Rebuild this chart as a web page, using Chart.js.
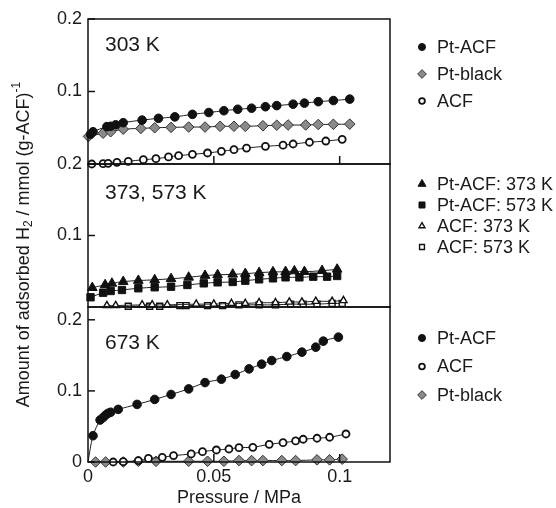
<!DOCTYPE html>
<html>
<head>
<meta charset="utf-8">
<script src="https://cdn.jsdelivr.net/npm/chart.js@4/dist/chart.umd.min.js"></script>
<style>
  html, body { margin: 0; padding: 0; background: #fff; }
  #wrap { width: 556px; height: 508px; }
</style>
</head>
<body>
<div id="wrap"><canvas id="chart" width="556" height="508"></canvas></div>
<script>
// tick labels
const xTicks = [0, 0.05, 0.1];
const yTicksUpper = [0.1, 0.2];
const yTicksLower = [0, 0.1, 0.2];

// 303 K panel
const ptAcf303X = [0.001, 0.002, 0.0075, 0.009, 0.011, 0.014, 0.0215, 0.028, 0.0345, 0.0415, 0.048, 0.054, 0.0595, 0.065, 0.0705, 0.075, 0.0815, 0.086, 0.0915, 0.0975, 0.104];
const ptAcf303Y = [0.041, 0.0445, 0.0515, 0.052, 0.054, 0.057, 0.0605, 0.063, 0.065, 0.0685, 0.071, 0.0735, 0.0755, 0.077, 0.079, 0.0805, 0.0825, 0.084, 0.086, 0.0875, 0.0895];
const ptBlack303X = [0.0002, 0.006, 0.009, 0.014, 0.021, 0.0265, 0.033, 0.040, 0.0465, 0.0525, 0.058, 0.0625, 0.0695, 0.075, 0.0795, 0.0865, 0.0915, 0.0975, 0.104];
const ptBlack303Y = [0.038, 0.0425, 0.0445, 0.048, 0.049, 0.050, 0.0505, 0.051, 0.051, 0.052, 0.052, 0.052, 0.0528, 0.0535, 0.0538, 0.0538, 0.0545, 0.0547, 0.055];
const acf303X = [0.0015, 0.006, 0.008, 0.0115, 0.016, 0.022, 0.027, 0.032, 0.036, 0.0415, 0.0475, 0.053, 0.058, 0.063, 0.0705, 0.0775, 0.0815, 0.088, 0.0945, 0.101];
const acf303Y = [0.0, 0.0005, 0.001, 0.0023, 0.0037, 0.006, 0.0073, 0.0097, 0.0115, 0.0133, 0.0152, 0.0175, 0.0197, 0.022, 0.0244, 0.026, 0.0276, 0.030, 0.0317, 0.034];

// 373 / 573 K panel
const ptAcf373X = [0.0017, 0.0068, 0.0095, 0.014, 0.020, 0.0265, 0.033, 0.040, 0.0465, 0.0515, 0.0575, 0.0625, 0.068, 0.0735, 0.0785, 0.082, 0.086, 0.093, 0.099];
const ptAcf373Y = [0.027, 0.031, 0.033, 0.0355, 0.037, 0.038, 0.0395, 0.0415, 0.044, 0.045, 0.0457, 0.0466, 0.048, 0.049, 0.0494, 0.0503, 0.0494, 0.0508, 0.0527];
const ptAcf573X = [0.001, 0.006, 0.009, 0.0135, 0.020, 0.0265, 0.033, 0.0395, 0.046, 0.0515, 0.0575, 0.0625, 0.068, 0.0735, 0.0785, 0.084, 0.0895, 0.095, 0.099];
const ptAcf573Y = [0.0136, 0.020, 0.0224, 0.0238, 0.0262, 0.0276, 0.0284, 0.0308, 0.0331, 0.0345, 0.035, 0.0368, 0.0387, 0.0401, 0.0415, 0.0415, 0.0424, 0.0424, 0.0434];
const acf373X = [0.0075, 0.011, 0.0215, 0.0255, 0.0315, 0.043, 0.050, 0.057, 0.0625, 0.068, 0.0745, 0.080, 0.085, 0.0905, 0.097, 0.1015];
const acf373Y = [0.002, 0.002, 0.003, 0.003, 0.003, 0.004, 0.004, 0.005, 0.005, 0.006, 0.006, 0.007, 0.007, 0.008, 0.008, 0.009];
const acf573X = [0.016, 0.0245, 0.0285, 0.0365, 0.039, 0.0475, 0.0535, 0.060, 0.068, 0.0745, 0.0805, 0.0855, 0.091, 0.097, 0.101];
const acf573Y = [0.001, 0.001, 0.001, 0.002, 0.002, 0.002, 0.002, 0.003, 0.003, 0.003, 0.004, 0.004, 0.004, 0.005, 0.005];

// 673 K panel (first Pt-ACF point is the curve origin, no marker)
const ptAcf673X = [0, 0.002, 0.0048, 0.006, 0.007, 0.008, 0.009, 0.012, 0.0195, 0.0265, 0.033, 0.040, 0.0465, 0.053, 0.0585, 0.064, 0.069, 0.073, 0.079, 0.085, 0.0905, 0.0935, 0.0995];
const ptAcf673Y = [0, 0.037, 0.059, 0.0625, 0.066, 0.0685, 0.070, 0.074, 0.081, 0.088, 0.095, 0.1028, 0.1117, 0.1165, 0.123, 0.131, 0.1376, 0.1427, 0.1483, 0.1545, 0.1615, 0.170, 0.1756];
const acf673X = [0.010, 0.014, 0.020, 0.024, 0.0295, 0.034, 0.041, 0.0455, 0.051, 0.056, 0.060, 0.0655, 0.072, 0.0775, 0.0825, 0.0855, 0.091, 0.096, 0.1025];
const acf673Y = [0, 0.0005, 0.002, 0.005, 0.0066, 0.009, 0.0113, 0.0145, 0.0169, 0.0183, 0.0202, 0.0207, 0.0249, 0.0272, 0.0296, 0.032, 0.0334, 0.0348, 0.0394];
const ptBlack673X = [0.003, 0.007, 0.014, 0.020, 0.027, 0.040, 0.0475, 0.054, 0.060, 0.065, 0.0695, 0.077, 0.0825, 0.091, 0.096, 0.101];
const ptBlack673Y = [0, 0, 0, 0.001, 0.001, 0.001, 0.001, 0.001, 0.002, 0.002, 0.002, 0.002, 0.002, 0.003, 0.003, 0.004];

const FONT = 'Liberation Sans, Arial, Helvetica, sans-serif';
const INK = '#1a1a1a';

// marker looks
const markers = {
  dot:      { pointStyle: 'circle',   pointRadius: 4.3, pointBackgroundColor: '#111', pointBorderColor: '#111', pointBorderWidth: 1 },
  ring:     { pointStyle: 'circle',   pointRadius: 3.5, pointBackgroundColor: '#fff', pointBorderColor: '#111', pointBorderWidth: 1.8 },
  diamond:  { pointStyle: 'rectRot',  pointRadius: 5.3, pointBackgroundColor: '#8a8a8a', pointBorderColor: '#333', pointBorderWidth: 1 },
  tri:      { pointStyle: 'triangle', pointRadius: 5.6, pointBackgroundColor: '#111', pointBorderColor: '#111', pointBorderWidth: 1 },
  square:   { pointStyle: 'rect',     pointRadius: 5.2, pointBackgroundColor: '#111', pointBorderColor: '#111', pointBorderWidth: 1 },
  triOpen:  { pointStyle: 'triangle', pointRadius: 4.2, pointBackgroundColor: '#fff', pointBorderColor: '#111', pointBorderWidth: 1.4 },
  sqOpen:   { pointStyle: 'rect',     pointRadius: 4.2, pointBackgroundColor: '#fff', pointBorderColor: '#111', pointBorderWidth: 1.4 }
};

function series(label, xs, ys, axis, marker, hideFirst) {
  const m = markers[marker];
  const radii = xs.map((_, i) => (hideFirst && i === 0) ? 0 : m.pointRadius);
  return Object.assign({}, m, {
    label: label,
    marker: marker,
    data: xs.map((x, i) => ({ x: x, y: ys[i] })),
    yAxisID: axis,
    showLine: true,
    borderColor: '#222',
    borderWidth: 1,
    tension: 0.35,
    clip: false,
    pointRadius: radii
  });
}

const datasets = [
  series('Pt-ACF', ptAcf303X, ptAcf303Y, 'yT', 'dot'),
  series('Pt-black', ptBlack303X, ptBlack303Y, 'yT', 'diamond'),
  series('ACF', acf303X, acf303Y, 'yT', 'ring'),
  series('Pt-ACF: 373 K', ptAcf373X, ptAcf373Y, 'yM', 'tri'),
  series('Pt-ACF: 573 K', ptAcf573X, ptAcf573Y, 'yM', 'square'),
  series('ACF: 373 K', acf373X, acf373Y, 'yM', 'triOpen'),
  series('ACF: 573 K', acf573X, acf573Y, 'yM', 'sqOpen'),
  series('Pt-ACF', ptAcf673X, ptAcf673Y, 'yB', 'dot', true),
  series('ACF', acf673X, acf673Y, 'yB', 'ring'),
  series('Pt-black', ptBlack673X, ptBlack673Y, 'yB', 'diamond')
];

// panel text and legend groups: dataset indices, offsets from panel top
const panels = [
  { axis: 'yT', label: '303 K', labelDy: 26, legend: [0, 1, 2], legendDy: 28, legendStep: 27 },
  { axis: 'yM', label: '373, 573 K', labelDy: 29, legend: [3, 4, 5, 6], legendDy: 20, legendStep: 21 },
  { axis: 'yB', label: '673 K', labelDy: 36, legend: [7, 8, 9], legendDy: 31, legendStep: 28.5 }
];

function yScale(ticks, max, weight) {
  return {
    type: 'linear',
    position: 'left',
    stack: 'panels',
    stackWeight: weight,
    min: 0,
    max: max,
    grid: { display: false, drawTicks: false },
    border: { display: false },
    afterBuildTicks: s => { s.ticks = ticks.map(v => ({ value: v })); },
    afterFit: s => { s.width = 88; },
    ticks: { font: { family: FONT, size: 18 }, color: INK, padding: 6, callback: v => String(v) }
  };
}

const framePlugin = {
  id: 'frames',
  afterDatasetsDraw(chart) {
    const ctx = chart.ctx;
    const xs = chart.scales.x;
    ctx.save();
    ctx.strokeStyle = '#111';
    ctx.lineWidth = 1.5;
    panels.forEach(p => {
      const s = chart.scales[p.axis];
      ctx.strokeRect(xs.left, s.top, xs.right - xs.left, s.bottom - s.top);
      s.ticks.forEach(t => {
        const py = s.getPixelForValue(t.value);
        ctx.beginPath();
        ctx.moveTo(xs.left, py);
        ctx.lineTo(xs.left + 7, py);
        ctx.stroke();
      });
    });
    // inward x ticks on the bottom of the top and bottom panels
    ['yT', 'yB'].forEach(id => {
      const s = chart.scales[id];
      xTicks.slice(1).forEach(v => {
        const px = xs.getPixelForValue(v);
        ctx.beginPath();
        ctx.moveTo(px, s.bottom);
        ctx.lineTo(px, s.bottom - 8);
        ctx.stroke();
      });
    });
    ctx.restore();
  }
};

const textPlugin = {
  id: 'texts',
  afterDraw(chart) {
    const ctx = chart.ctx;
    const xs = chart.scales.x;
    const h = Chart.helpers;
    ctx.save();
    ctx.fillStyle = INK;
    ctx.textBaseline = 'middle';
    ctx.textAlign = 'left';

    panels.forEach(p => {
      const s = chart.scales[p.axis];
      ctx.font = '21px ' + FONT;
      ctx.fillText(p.label, xs.left + 17, s.top + p.labelDy);

      p.legend.forEach((di, k) => {
        const ds = chart.data.datasets[di];
        const m = markers[ds.marker];
        const y = s.top + p.legendDy + k * p.legendStep;
        const x = xs.right + 32;
        ctx.fillStyle = m.pointBackgroundColor;
        ctx.strokeStyle = m.pointBorderColor;
        ctx.lineWidth = m.pointBorderWidth;
        h.drawPoint(ctx, { pointStyle: m.pointStyle, radius: m.pointRadius * 0.82, rotation: 0, borderWidth: m.pointBorderWidth }, x, y);
        ctx.fillStyle = INK;
        ctx.font = '18px ' + FONT;
        ctx.fillText(ds.label, x + 15, y + 1);
      });
    });

    // y axis title with H2 subscript and -1 superscript
    const parts = [
      ['Amount of adsorbed H', 18, 0],
      ['2', 12, 5],
      [' / mmol (g-ACF)', 18, 0],
      ['-1', 12, -7]
    ];
    let total = 0;
    parts.forEach(pt => { ctx.font = pt[1] + 'px ' + FONT; total += ctx.measureText(pt[0]).width; });
    const midY = (chart.scales.yT.top + chart.scales.yB.bottom) / 2 + 4;
    ctx.translate(24, midY);
    ctx.rotate(-Math.PI / 2);
    let cx = -total / 2;
    parts.forEach(pt => {
      ctx.font = pt[1] + 'px ' + FONT;
      ctx.fillText(pt[0], cx, pt[2]);
      cx += ctx.measureText(pt[0]).width;
    });
    ctx.restore();
  }
};

new Chart(document.getElementById('chart'), {
  type: 'scatter',
  data: { datasets: datasets },
  options: {
    responsive: false,
    animation: false,
    devicePixelRatio: 1,
    layout: { padding: { left: 0, right: 166, top: 19, bottom: 0 } },
    plugins: { legend: { display: false }, tooltip: { enabled: false } },
    scales: {
      x: {
        type: 'linear',
        min: 0,
        max: 0.12,
        grid: { display: false, drawTicks: false },
        border: { display: false },
        afterBuildTicks: s => { s.ticks = xTicks.map(v => ({ value: v })); },
        afterFit: s => { s.height = 46; },
        ticks: { font: { family: FONT, size: 18 }, color: INK, padding: 4, maxRotation: 0, callback: v => String(v) },
        title: { display: true, text: 'Pressure / MPa', font: { family: FONT, size: 18 }, color: INK, padding: { top: 0, bottom: -1 } }
      },
      yB: yScale(yTicksLower, 0.218, 155),
      yM: yScale(yTicksUpper, 0.2, 143),
      yT: yScale(yTicksUpper, 0.2, 145)
    }
  },
  plugins: [framePlugin, textPlugin]
});
</script>
</body>
</html>
